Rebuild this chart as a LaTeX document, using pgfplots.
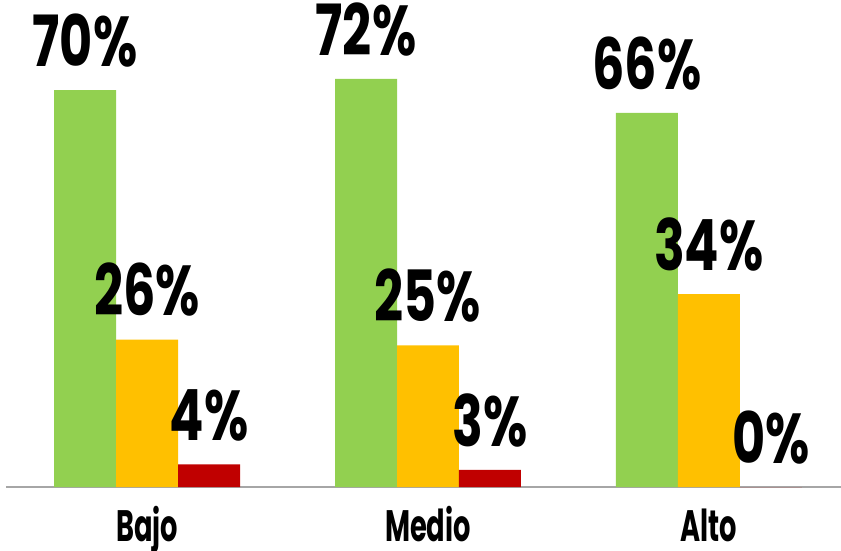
\documentclass[border=0pt]{standalone}
\usepackage{fontspec}
\setmainfont{Poppins}[FakeStretch=0.7]
\newfontfamily\valf{Poppins}[FakeStretch=0.72]
\newfontfamily\tickf{Poppins}[FakeStretch=0.62]
\usepackage{pgfplots}
\pgfplotsset{compat=1.18}
\definecolor{cg}{HTML}{92D050}
\definecolor{co}{HTML}{FFC000}
\definecolor{cr}{HTML}{C00000}
\definecolor{cax}{HTML}{A6A6A6}
\begin{document}
\begin{tikzpicture}
\useasboundingbox (0,0) rectangle (630.75pt,412.5pt);
\begin{axis}[
  at={(4.5pt,47.25pt)}, anchor=south west,
  scale only axis, width=626.25pt, height=365.25pt,
  xmin=-0.502, xmax=2.47, ymin=0, ymax=85.9,
  axis x line*=bottom, axis y line=none,
  x axis line style={draw=cax, line width=1pt},
  ytick=\empty, xtick={0,1,2}, xticklabels={Bajo,Medio,Alto},
  major tick length=0pt,
  /pgf/number format/assume math mode=true,
  xticklabel style={font=\tickf\bfseries\fontsize{33}{33}\selectfont, anchor=base, yshift=-41pt, inner sep=0pt},
  ybar, bar width=0.2206, clip=false,
  nodes near coords={\pgfmathprintnumber{\pgfplotspointmeta}\%},
  every node near coord/.append style={font=\valf\bfseries\fontsize{53}{53}\selectfont, anchor=south, inner sep=0pt, yshift=17pt, text=black},
]
\addplot[fill=cg, draw=none, bar shift=-0.2206] coordinates {(0,70) (1,72) (2,66)};
\addplot[fill=co, draw=none, bar shift=0] coordinates {(0,26) (1,25) (2,34)};
\addplot[fill=cr, draw=none, bar shift=0.2206] coordinates {(0,4) (1,3) (2,0)};
\end{axis}
\end{tikzpicture}
\end{document}
